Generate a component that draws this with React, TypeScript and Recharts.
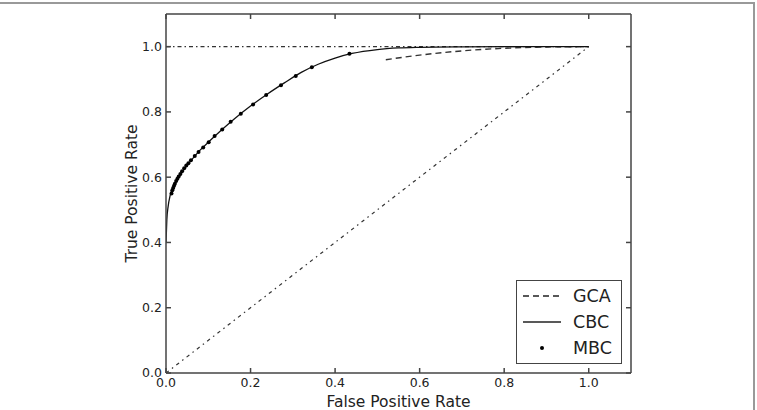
import React from 'react';
import { ComposedChart, Line, Scatter, XAxis, YAxis } from 'recharts';

const xTicks = [0, 0.2, 0.4, 0.6, 0.8, 1.0];
const yTicks = [0, 0.2, 0.4, 0.6, 0.8, 1.0];

const cbcX = [0, 0.002, 0.005, 0.01, 0.02, 0.03, 0.045, 0.06, 0.08, 0.1, 0.13, 0.16, 0.2, 0.24, 0.28, 0.32, 0.36, 0.4, 0.44, 0.5, 0.55, 0.6, 0.7, 0.8, 1.0];
const cbcY = [0.4, 0.47, 0.51, 0.545, 0.578, 0.6, 0.628, 0.652, 0.682, 0.707, 0.743, 0.777, 0.818, 0.855, 0.889, 0.921, 0.946, 0.965, 0.979, 0.991, 0.996, 0.998, 0.9995, 1.0, 1.0];

const gcaX = [0.52, 0.6, 0.7, 0.8, 0.9, 1.0];
const gcaY = [0.96, 0.974, 0.987, 0.995, 0.999, 1.0];

const mbcX = [0.013, 0.015, 0.017, 0.019, 0.021, 0.024, 0.027, 0.03, 0.034, 0.038, 0.043, 0.048, 0.053, 0.059, 0.068, 0.077, 0.088, 0.101, 0.115, 0.133, 0.153, 0.177, 0.206, 0.237, 0.272, 0.307, 0.345, 0.434];
const mbcY = [0.55, 0.56, 0.567, 0.574, 0.58, 0.588, 0.595, 0.602, 0.61, 0.618, 0.627, 0.636, 0.643, 0.652, 0.665, 0.677, 0.691, 0.707, 0.726, 0.746, 0.77, 0.794, 0.823, 0.852, 0.882, 0.91, 0.937, 0.978];

const chanceX = [0, 1];
const chanceY = [0, 1];
const perfectX = [0, 1];
const perfectY = [1, 1];

const zip = (xs: number[], ys: number[]) => xs.map((x, i) => ({ x, y: ys[i] }));

const cbcData = zip(cbcX, cbcY);
const gcaData = zip(gcaX, gcaY);
const mbcData = zip(mbcX, mbcY);
const chanceData = zip(chanceX, chanceY);
const perfectData = zip(perfectX, perfectY);

const legendItems = [
  { name: 'GCA', kind: 'dash' },
  { name: 'CBC', kind: 'solid' },
  { name: 'MBC', kind: 'dot' },
];

const FONT = '"DejaVu Sans", sans-serif';
const AXIS = '#444';
const TEXT = '#222';

const LegendBox = () => (
  <div
    style={{
      position: 'absolute',
      left: 516,
      top: 280,
      width: 106,
      height: 84,
      boxSizing: 'border-box',
      border: `1.5px solid ${AXIS}`,
      background: '#fff',
      fontFamily: FONT,
      fontSize: 17.5,
      color: TEXT,
    }}
  >
    {legendItems.map((it, i) => (
      <div key={it.name} style={{ position: 'absolute', left: 0, top: 2 + i * 26, height: 26, width: 104, display: 'flex', alignItems: 'center' }}>
        <svg width={52} height={26} style={{ display: 'block' }}>
          {it.kind === 'dash' && <line x1={6} x2={44} y1={13} y2={13} stroke={TEXT} strokeWidth={1.3} strokeDasharray="6 4" />}
          {it.kind === 'solid' && <line x1={6} x2={44} y1={13} y2={13} stroke={TEXT} strokeWidth={1.3} />}
          {it.kind === 'dot' && <circle cx={25} cy={13} r={2} fill="#000" />}
        </svg>
        <span style={{ marginLeft: 4, lineHeight: '26px' }}>{it.name}</span>
      </div>
    ))}
  </div>
);

export default function App() {
  return (
    <div style={{ position: 'absolute', left: 0, top: 0, width: 757, height: 410, background: '#fff' }}>
      <div style={{ position: 'absolute', left: 0, top: 2, width: 755, height: 408, borderTop: '2px solid #999', borderRight: '2px solid #999', boxSizing: 'border-box' }} />
      <ComposedChart width={757} height={410} margin={{ top: 13, right: 125, bottom: 0, left: 0 }} style={{ fontFamily: FONT, position: 'absolute', left: 0, top: 0 }}>
        <XAxis
          xAxisId="b"
          type="number"
          dataKey="x"
          domain={[0, 1.1]}
          ticks={xTicks}
          tickFormatter={(v: number) => v.toFixed(1)}
          height={37}
          stroke={AXIS}
          strokeWidth={1.5}
          tickSize={-5}
          tickMargin={10}
          tick={{ fill: TEXT, fontSize: 12.5 }}
          allowDataOverflow
          label={{ value: 'False Positive Rate', position: 'insideBottom', offset: 3, fill: TEXT, fontSize: 15.5 }}
        />
        <XAxis
          xAxisId="t"
          orientation="top"
          type="number"
          dataKey="x"
          domain={[0, 1.1]}
          ticks={xTicks}
          tickFormatter={() => ''}
          height={1}
          stroke={AXIS}
          strokeWidth={1.5}
          tickSize={-5}
          allowDataOverflow
        />
        <YAxis
          yAxisId="l"
          type="number"
          dataKey="y"
          domain={[0, 1.1]}
          ticks={yTicks}
          tickFormatter={(v: number) => v.toFixed(1)}
          width={166}
          stroke={AXIS}
          strokeWidth={1.5}
          tickSize={-5}
          tickMargin={9}
          tick={{ fill: TEXT, fontSize: 12.5 }}
          allowDataOverflow
          label={{ value: 'True Positive Rate', angle: -90, position: 'center', dx: 48, fill: TEXT, fontSize: 15.5 }}
        />
        <YAxis
          yAxisId="r"
          orientation="right"
          type="number"
          dataKey="y"
          domain={[0, 1.1]}
          ticks={yTicks}
          tickFormatter={() => ''}
          width={1}
          stroke={AXIS}
          strokeWidth={1.5}
          tickSize={-5}
          allowDataOverflow
        />
        <Line xAxisId="b" yAxisId="l" data={perfectData} dataKey="y" type="linear" stroke="#333" strokeWidth={1.2} strokeDasharray="4 3 1.5 3" dot={false} isAnimationActive={false} legendType="none" />
        <Line xAxisId="b" yAxisId="l" data={chanceData} dataKey="y" type="linear" stroke="#333" strokeWidth={1.2} strokeDasharray="3.5 4 1.5 4" dot={false} isAnimationActive={false} legendType="none" />
        <Line xAxisId="b" yAxisId="l" data={gcaData} dataKey="y" name="GCA" type="monotone" stroke="#333" strokeWidth={1.4} strokeDasharray="6 4" dot={false} isAnimationActive={false} />
        <Line xAxisId="b" yAxisId="l" data={cbcData} dataKey="y" name="CBC" type="monotone" stroke="#111" strokeWidth={1.3} dot={false} isAnimationActive={false} />
        <Scatter xAxisId="b" yAxisId="l" data={mbcData} dataKey="y" name="MBC" fill="#000" shape={(p: any) => <circle cx={p.cx} cy={p.cy} r={2} fill="#000" />} isAnimationActive={false} />
      </ComposedChart>
      <LegendBox />
    </div>
  );
}
